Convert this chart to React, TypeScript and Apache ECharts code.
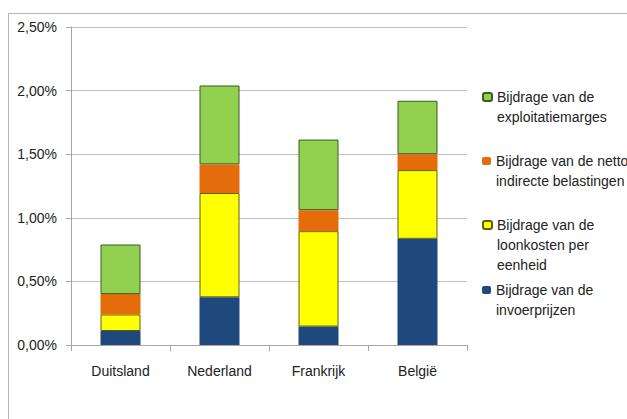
import React, { useEffect, useRef } from "react";
import * as echarts from "echarts";

const categories = ["Duitsland", "Nederland", "Frankrijk", "België"];
const invoerprijzen = [0.11, 0.375, 0.145, 0.835];
const loonkosten = [0.13, 0.82, 0.75, 0.54];
const belastingen = [0.16, 0.225, 0.165, 0.125];
const exploitatiemarges = [0.39, 0.62, 0.555, 0.42];

const names = [
  "Bijdrage van de\nexploitatiemarges",
  "Bijdrage van de netto\nindirecte belastingen",
  "Bijdrage van de\nloonkosten per\neenheid",
  "Bijdrage van de\ninvoerprijzen",
];

const FONT = "'Liberation Sans', Arial, sans-serif";
const LH = 20;

export default function App() {
  const ref = useRef<HTMLDivElement>(null);
  useEffect(() => {
    if (!ref.current) return;
    const chart = echarts.init(ref.current, null, { renderer: "svg" });
    const legendTops = [97, 161, 225, 290];
    const legends = names.map((n, i) => {
      const lines = n.split("\n").length;
      return {
        show: true,
        data: [n],
        left: 482,
        top: legendTops[i] - ((2 * lines - 1) * LH) / 2,
        padding: 0,
        itemWidth: 9,
        itemHeight: 8,
        itemGap: 0,
        selectedMode: false,
        formatter: (name: string) => "\n".repeat(lines - 1) + name,
        textStyle: {
          fontFamily: FONT,
          fontSize: 14,
          color: "#222",
          lineHeight: LH,
        },
      };
    });
    const mk = (name: string, data: number[], color: string, border: string | null) => ({
      name,
      type: "bar",
      stack: "total",
      data,
      barWidth: 40,
      itemStyle: {
        color,
        borderColor: border || color,
        borderWidth: border ? 1 : 0,
      },
    });
    chart.setOption({
      animation: false,
      backgroundColor: "#fff",
      textStyle: { fontFamily: FONT },
      grid: { left: 71, top: 27, right: 160, bottom: 74, containLabel: false },
      legend: legends,
      graphic: [
        {
          type: "rect",
          shape: { x: 8.5, y: 13.5, width: 700, height: 500 },
          style: { fill: "none", stroke: "#b4b4b4", lineWidth: 1 },
          silent: true,
        },
      ],
      xAxis: {
        type: "category",
        data: categories,
        axisLine: { lineStyle: { color: "#a6a6a6" } },
        axisTick: { show: true, length: 6, lineStyle: { color: "#a6a6a6" } },
        axisLabel: { fontFamily: FONT, fontSize: 14, color: "#222", margin: 19 },
      },
      yAxis: {
        type: "value",
        min: 0,
        max: 2.5,
        interval: 0.5,
        axisLine: { show: true, lineStyle: { color: "#a6a6a6" } },
        axisTick: { show: true, length: 5, lineStyle: { color: "#a6a6a6" } },
        splitLine: { lineStyle: { color: "#bfbfbf" } },
        axisLabel: {
          fontFamily: FONT,
          fontSize: 14,
          color: "#222",
          margin: 14,
          formatter: (v: number) => v.toFixed(2).replace(".", ",") + "%",
        },
      },
      series: [
        mk(names[3], invoerprijzen, "#1f497d", null),
        mk(names[2], loonkosten, "#ffff00", "#5e5e10"),
        mk(names[1], belastingen, "#e46c0a", null),
        mk(names[0], exploitatiemarges, "#92d050", "#3d5a22"),
      ],
    });
    return () => chart.dispose();
  }, []);
  return <div ref={ref} style={{ width: 627, height: 419, position: "absolute", left: 0, top: 0 }} />;
}
